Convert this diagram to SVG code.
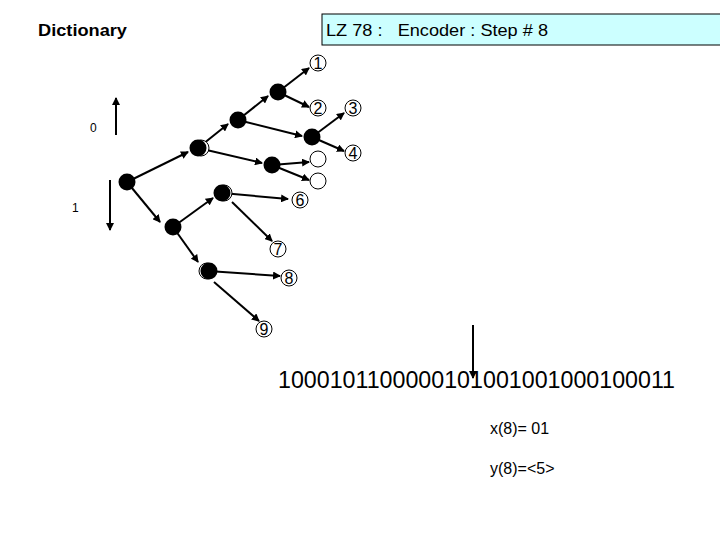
<svg xmlns="http://www.w3.org/2000/svg" width="720" height="540" viewBox="0 0 720 540">
<defs><marker id="ar" markerWidth="8" markerHeight="8" refX="7" refY="4" orient="auto" markerUnits="userSpaceOnUse"><path d="M0,0 L8,4 L0,8z" fill="#000"/></marker>
<style>.e{stroke:#000;stroke-width:2;marker-end:url(#ar)}.n{fill:#000}.l{fill:#fff;stroke:#000;stroke-width:1}text{font-family:"Liberation Sans",Arial,sans-serif}.t{font-size:16px;text-anchor:middle}</style></defs>
<rect width="720" height="540" fill="#fff"/>
<rect x="322" y="14" width="400" height="31" fill="#ccffff" stroke="#000"/>
<text x="326" y="36" font-size="17" xml:space="preserve" textLength="222" lengthAdjust="spacingAndGlyphs">LZ 78 :   Encoder : Step # 8</text>
<text x="38" y="36" font-size="17" font-weight="bold" textLength="89" lengthAdjust="spacingAndGlyphs">Dictionary</text>
<text x="90" y="132" font-size="12">0</text>
<text x="72" y="212" font-size="12">1</text>
<g id="edges">
<line class="e" x1="116" y1="135" x2="116" y2="98"/>
<line class="e" x1="110" y1="180" x2="110" y2="230"/>
<line class="e" x1="127" y1="182" x2="188" y2="152"/>
<line class="e" x1="127" y1="182" x2="160" y2="222"/>
<line class="e" x1="198" y1="148" x2="228" y2="124"/>
<line class="e" x1="198" y1="148" x2="262" y2="163"/>
<line class="e" x1="238" y1="120" x2="268" y2="96"/>
<line class="e" x1="238" y1="120" x2="302" y2="136"/>
<line class="e" x1="278" y1="92" x2="309" y2="68"/>
<line class="e" x1="278" y1="92" x2="309" y2="107"/>
<line class="e" x1="312" y1="137" x2="344" y2="113"/>
<line class="e" x1="312" y1="137" x2="344" y2="151"/>
<line class="e" x1="272" y1="165" x2="309" y2="162"/>
<line class="e" x1="272" y1="165" x2="309" y2="180"/>
<line class="e" x1="173" y1="227" x2="213" y2="198"/>
<line class="e" x1="173" y1="227" x2="198" y2="262"/>
<line class="e" x1="222" y1="193" x2="288" y2="199"/>
<line class="e" x1="232" y1="202" x2="272" y2="241"/>
<line class="e" x1="208" y1="271" x2="280" y2="276"/>
<line class="e" x1="214" y1="282" x2="259" y2="321"/>
<line class="e" x1="473" y1="325" x2="473" y2="378"/>
</g>
<g id="leaves">
<circle class="l" cx="318" cy="63" r="8"/><text class="t" x="318" y="69">1</text>
<circle class="l" cx="318" cy="108" r="8"/><text class="t" x="318" y="114">2</text>
<circle class="l" cx="353" cy="108" r="8"/><text class="t" x="353" y="114">3</text>
<circle class="l" cx="353" cy="153" r="8"/><text class="t" x="353" y="159">4</text>
<circle class="l" cx="318" cy="159" r="8"/>
<circle class="l" cx="318" cy="181" r="8"/>
<circle class="l" cx="300" cy="200" r="8"/><text class="t" x="300" y="206">6</text>
<circle class="l" cx="278" cy="249" r="8"/><text class="t" x="278" y="255">7</text>
<circle class="l" cx="289" cy="278" r="8"/><text class="t" x="289" y="284">8</text>
<circle class="l" cx="264" cy="329" r="8"/><text class="t" x="264" y="335">9</text>
</g>
<g id="nodes">
<circle class="l" cx="201" cy="148" r="8"/><circle class="n" cx="198" cy="148" r="8.5"/>
<circle class="n" cx="127" cy="182" r="8.5"/>
<circle class="n" cx="238" cy="120" r="8.5"/>
<circle class="n" cx="278" cy="92" r="8.5"/>
<circle class="n" cx="312" cy="137" r="8.5"/>
<circle class="n" cx="272" cy="165" r="8.5"/>
<circle class="l" cx="224" cy="193" r="8"/><circle class="n" cx="222" cy="193" r="8.5"/>
<circle class="n" cx="173" cy="227" r="8.5"/>
<circle class="l" cx="207" cy="271" r="8"/><circle class="n" cx="209" cy="271" r="8.5"/>
</g>
<text x="278" y="388" font-size="23" textLength="397" lengthAdjust="spacingAndGlyphs">1000101100000101001001000100011</text>
<text x="490" y="434" font-size="16">x(8)= 01</text>
<text x="490" y="474" font-size="16">y(8)=&lt;5&gt;</text>
</svg>
